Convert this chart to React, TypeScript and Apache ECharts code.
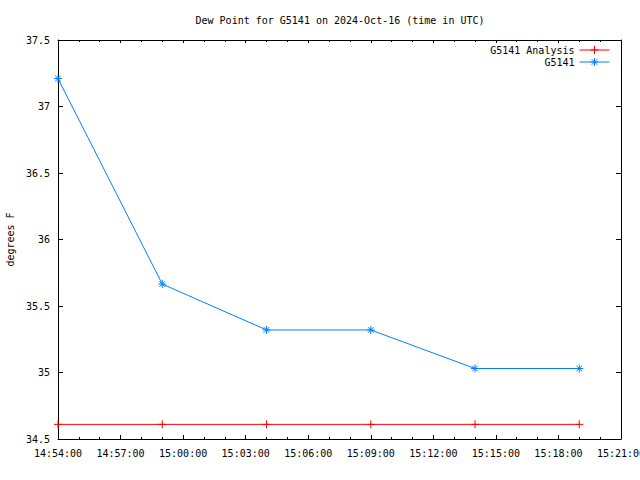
import React, { useEffect, useRef } from "react";
import * as echarts from "echarts";

const titleText = "Dew Point for G5141 on 2024-Oct-16 (time in UTC)";
const yAxisName = "degrees F";
const obsTimes = ["14:54:00", "14:59:00", "15:04:00", "15:09:00", "15:14:00", "15:19:00"];
const obsValues = [37.21, 35.665, 35.32, 35.32, 35.03, 35.03];
const analysisTimes = ["14:54:00", "14:59:00", "15:04:00", "15:09:00", "15:14:00", "15:19:00"];
const analysisValues = [34.61, 34.61, 34.61, 34.61, 34.61, 34.61];
const xStart = "14:54:00";
const xEnd = "15:21:00";
const yMin = 34.5;
const yMax = 37.5;
const yStep = 0.5;

const toMs = (t: string) => {
  const [h, m, s] = t.split(":").map(Number);
  return Date.UTC(2024, 9, 16, h, m, s);
};
const pad = (n: number) => (n < 10 ? "0" + n : "" + n);
const fmt = (v: number) => {
  const d = new Date(v);
  return pad(d.getUTCHours()) + ":" + pad(d.getUTCMinutes()) + ":" + pad(d.getUTCSeconds());
};

const FONT = "DejaVu Sans Mono";
const plusPath = "path://M-1,0L1,0M0,-1L0,1";
const starPath = "path://M0,-1L0,1M-1,0L1,0M-0.7,-0.7L0.7,0.7M-0.7,0.7L0.7,-0.7";

export default function App() {
  const ref = useRef<HTMLDivElement>(null);
  useEffect(() => {
    if (!ref.current) return;
    const chart = echarts.init(ref.current, undefined, { renderer: "svg" });
    const xMin = toMs(xStart);
    const xMax = toMs(xEnd);
    const xInterval = 3 * 60 * 1000;
    const axisLine = { show: true, lineStyle: { color: "#000", width: 1 } };
    chart.setOption({
      animation: false,
      backgroundColor: "#fff",
      title: {
        text: titleText,
        left: 335,
        textAlign: "center",
        top: 10,
        textStyle: { fontFamily: FONT, fontSize: 10, fontWeight: "normal", color: "#000" },
      },
      legend: {
        orient: "vertical",
        right: 25,
        top: 40,
        align: "right",
        itemWidth: 30,
        itemHeight: 10,
        itemGap: 2,
        lineStyle: { width: 1 },
        itemStyle: { borderWidth: 1 },
        textStyle: { fontFamily: FONT, fontSize: 10, color: "#000" },
        data: ["G5141 Analysis", "G5141"],
      },
      grid: { left: 58, right: 19, top: 40, bottom: 41, containLabel: false, outerBoundsMode: "none" },
      xAxis: [
        {
          type: "value",
          position: "bottom",
          min: xMin,
          max: xMax,
          interval: xInterval,
          axisLine,
          axisTick: { show: true, inside: true, length: 4, lineStyle: { color: "#000" } },
          minorTick: { show: true, splitNumber: 3, length: 2, lineStyle: { color: "#000" } },
          splitLine: { show: false },
          axisLabel: {
            formatter: (v: number) => fmt(v),
            fontFamily: FONT,
            fontSize: 10,
            color: "#000",
            margin: 9,
            showMaxLabel: true,
            showMinLabel: true,
            hideOverlap: false,
          },
        },
        {
          type: "value",
          position: "top",
          min: xMin,
          max: xMax,
          interval: xInterval,
          axisLine,
          axisTick: { show: true, inside: true, length: 3, lineStyle: { color: "#000" } },
          minorTick: { show: true, splitNumber: 3, length: 2, lineStyle: { color: "#000" } },
          splitLine: { show: false },
          axisLabel: { show: false },
        },
      ],
      yAxis: [
        {
          type: "value",
          position: "left",
          min: yMin,
          max: yMax,
          interval: yStep,
          name: yAxisName,
          nameLocation: "middle",
          nameRotate: 90,
          nameGap: 43,
          nameTextStyle: { fontFamily: FONT, fontSize: 10, color: "#000" },
          axisLine,
          axisTick: { show: true, inside: true, length: 5, lineStyle: { color: "#000" } },
          splitLine: { show: false },
          axisLabel: { fontFamily: FONT, fontSize: 10, color: "#000", margin: 8 },
        },
        {
          type: "value",
          position: "right",
          min: yMin,
          max: yMax,
          interval: yStep,
          axisLine,
          axisTick: { show: true, inside: true, length: 5, lineStyle: { color: "#000" } },
          splitLine: { show: false },
          axisLabel: { show: false },
        },
      ],
      series: [
        {
          name: "G5141 Analysis",
          type: "line",
          xAxisIndex: 0,
          yAxisIndex: 0,
          data: analysisTimes.map((t, i) => [toMs(t), analysisValues[i]]),
          symbol: plusPath,
          symbolSize: 8,
          showAllSymbol: true,
          lineStyle: { color: "#ff0000", width: 1 },
          itemStyle: { color: "#ff0000", borderColor: "#ff0000", borderWidth: 1 },
        },
        {
          name: "G5141",
          type: "line",
          xAxisIndex: 0,
          yAxisIndex: 0,
          data: obsTimes.map((t, i) => [toMs(t), obsValues[i]]),
          symbol: starPath,
          symbolSize: 8,
          showAllSymbol: true,
          lineStyle: { color: "#0080ff", width: 1 },
          itemStyle: { color: "#0080ff", borderColor: "#0080ff", borderWidth: 1 },
        },
      ],
    });
    return () => chart.dispose();
  }, []);
  return (
    <div
      ref={ref}
      style={{ position: "fixed", left: 0, top: 0, width: 640, height: 480 }}
    />
  );
}
